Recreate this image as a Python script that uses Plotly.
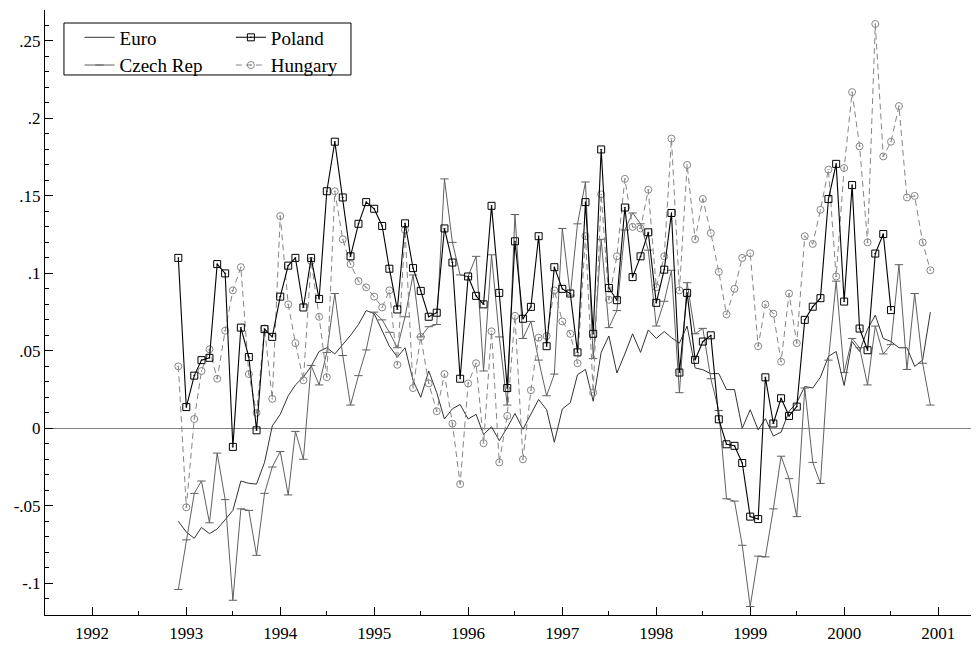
import plotly.graph_objects as go
import pandas as pd

# monthly observations, Dec 1992 - Dec 2000
months = pd.date_range('1992-12-01', periods=97, freq='MS')

euro = [
    -0.060, -0.067, -0.071, -0.064, -0.068, -0.065, -0.059, -0.053, -0.034, -0.0355,
    -0.036, -0.022, 0.0015, 0.009, 0.021, 0.028, 0.033, 0.040, 0.0496, 0.052,
    0.048, 0.054, 0.060, 0.067, 0.076, 0.074, 0.0635, 0.053, 0.046, 0.052,
    0.031, 0.020, 0.037, 0.023, 0.006, 0.0126, 0.0154, 0.006, 0.009, -0.004,
    0.001, -0.008, 0.0004, 0.0096, -0.0006, 0.009, 0.0186, 0.012, -0.009, 0.0125,
    0.0165, 0.0346, 0.038, 0.0175, 0.049, 0.0596, 0.0357, 0.048, 0.061, 0.049,
    0.0635, 0.058, 0.0625, 0.0585, 0.055, 0.066, 0.039, 0.0378, 0.0353, 0.0353,
    0.025, 0.025, 0.000, 0.012, -0.001, 0.0062, -0.005, -0.0025, 0.011, 0.0165,
    0.027, 0.026, 0.033, 0.0464, 0.0496, 0.0276, 0.056, 0.0496, 0.064, 0.073,
    0.058, 0.056, 0.052, 0.052, 0.040, 0.044, 0.075]

czech = [
    -0.104, -0.072, -0.042, -0.034, -0.061, -0.016, -0.046, -0.111, -0.052, -0.053,
    -0.082, -0.042, -0.025, -0.015, -0.043, -0.002, -0.020, 0.0406, 0.028, 0.049,
    0.087, 0.047, 0.015, 0.034, 0.0506, 0.075, 0.070, 0.062, 0.052, 0.072,
    0.099, 0.059, 0.0656, 0.067, 0.161, 0.120, 0.099, 0.098, 0.111, 0.037,
    0.112, 0.059, 0.015, 0.138, 0.058, 0.069, 0.044, 0.021, 0.035, 0.129,
    0.086, 0.132, 0.159, 0.045, 0.122, 0.065, 0.076, 0.128, 0.139, 0.132,
    0.115, 0.066, 0.082, 0.102, 0.023, 0.094, 0.061, 0.0645, 0.032, 0.0115,
    -0.0455, -0.047, -0.0755, -0.115, -0.0825, -0.083, -0.052, -0.018, -0.0325, -0.057,
    0.026, -0.022, -0.0356, 0.044, 0.095, 0.036, 0.058, 0.052, 0.028, 0.066,
    0.048, 0.054, 0.1056, 0.038, 0.087, 0.042, 0.015]

hungary = [
    0.040, -0.051, 0.006, 0.037, 0.051, 0.032, 0.063, 0.089, 0.104, 0.035,
    0.010, 0.0645, 0.019, 0.137, 0.080, 0.055, 0.031, 0.108, 0.072, 0.033,
    0.153, 0.122, 0.106, 0.095, 0.091, 0.085, 0.078, 0.089, 0.041, 0.128,
    0.026, 0.059, 0.029, 0.011, 0.035, 0.003, -0.036, 0.029, 0.042, -0.0096,
    0.0626, -0.022, 0.008, 0.0726, -0.020, 0.0246, 0.0585, 0.0596, 0.089, 0.069,
    0.061, 0.042, 0.124, 0.023, 0.151, 0.083, 0.111, 0.161, 0.130, 0.129,
    0.154, 0.091, 0.111, 0.187, 0.089, 0.170, 0.122, 0.148, 0.126, 0.101,
    0.0735, 0.090, 0.110, 0.113, 0.053, 0.080, 0.074, 0.043, 0.087, 0.055,
    0.124, 0.119, 0.141, 0.167, 0.098, 0.168, 0.217, 0.182, 0.120, 0.261,
    0.1755, 0.185, 0.208, 0.149, 0.150, 0.120, 0.102]

# Poland stops in mid-2000
poland = [
    0.110, 0.0137, 0.034, 0.044, 0.0455, 0.106, 0.100, -0.012, 0.065, 0.046,
    -0.0013, 0.064, 0.059, 0.085, 0.105, 0.110, 0.078, 0.110, 0.0835, 0.153,
    0.185, 0.149, 0.111, 0.132, 0.146, 0.1417, 0.1306, 0.103, 0.0767, 0.1323,
    0.1034, 0.0887, 0.072, 0.0746, 0.129, 0.107, 0.032, 0.098, 0.0855, 0.080,
    0.1436, 0.0874, 0.026, 0.1207, 0.0707, 0.0784, 0.124, 0.053, 0.104, 0.090,
    0.087, 0.049, 0.146, 0.061, 0.180, 0.0906, 0.0827, 0.1425, 0.0976, 0.111,
    0.1265, 0.081, 0.1024, 0.139, 0.036, 0.0874, 0.0442, 0.056, 0.060, 0.0058,
    -0.0103, -0.0113, -0.0224, -0.057, -0.0586, 0.0329, 0.0031, 0.0194, 0.008, 0.014,
    0.070, 0.0785, 0.084, 0.148, 0.1707, 0.0818, 0.157, 0.0644, 0.0504, 0.1128,
    0.1254, 0.0763]

year_ticks = [f'{y}-01-01' for y in range(1992, 2002)]
year_labels = [str(y) for y in range(1992, 2002)]
y_ticks = [-0.1, -0.05, 0, 0.05, 0.1, 0.15, 0.2, 0.25]
y_labels = ['-.1', '-.05', '0', '.05', '.1', '.15', '.2', '.25']

fig = go.Figure()

fig.add_trace(go.Scatter(
    x=months, y=euro, name='Euro', mode='lines',
    line=dict(color='#333333', width=1), legend='legend'))

fig.add_trace(go.Scatter(
    x=months, y=czech, name='Czech Rep', mode='lines+markers',
    line=dict(color='#606060', width=1),
    marker=dict(symbol='line-ew', size=6, color='#606060',
                line=dict(color='#606060', width=1)),
    legend='legend'))

fig.add_trace(go.Scatter(
    x=months, y=hungary, name='Hungary', mode='lines+markers',
    line=dict(color='#858585', width=1, dash='6px,4px'),
    marker=dict(symbol='circle-open-dot', size=7, color='#858585',
                line=dict(width=1)),
    legend='legend2', legendrank=2))

fig.add_trace(go.Scatter(
    x=months[:len(poland)], y=poland, name='Poland', mode='lines+markers',
    line=dict(color='black', width=1.1),
    marker=dict(symbol='square-open-dot', size=7, color='black',
                line=dict(width=1)),
    legend='legend2', legendrank=1))

# box round the two legend columns
fig.add_shape(type='rect', xref='paper', yref='paper',
              x0=0.0203, x1=0.3276, y0=0.8926, y1=0.9785,
              line=dict(color='black', width=1), fillcolor='rgba(0,0,0,0)')

leg_common = dict(xanchor='left', yanchor='top', bgcolor='rgba(0,0,0,0)',
                  borderwidth=0, font=dict(size=19), tracegroupgap=0)

fig.update_layout(
    width=979, height=649,
    margin=dict(l=37, r=8, t=2, b=42),
    plot_bgcolor='white', paper_bgcolor='white',
    font=dict(family='Liberation Serif', size=17, color='black'),
    legend=dict(x=0.037, y=0.986, **leg_common),
    legend2=dict(x=0.199, y=0.986, **leg_common),
)

fig.update_xaxes(
    type='date', range=['1991-07-02', '2001-06-08'],
    tickvals=year_ticks, ticktext=year_labels,
    ticks='inside', ticklen=8, tickcolor='black', ticklabelstandoff=3,
    minor=dict(ticks='inside', ticklen=4, dtick='M6', tick0='1992-01-01',
               tickcolor='black', showgrid=False),
    showline=True, linecolor='black', linewidth=1,
    showgrid=False, zeroline=False)

fig.update_yaxes(
    range=[-0.1205, 0.27],
    tickvals=y_ticks, ticktext=y_labels,
    ticks='inside', ticklen=8, tickcolor='black',
    minor=dict(ticks='inside', ticklen=4, dtick=0.01, tick0=0,
               tickcolor='black', showgrid=False),
    showline=True, linecolor='black', linewidth=1,
    showgrid=False, zeroline=True, zerolinecolor='#808080', zerolinewidth=1)

fig.write_html('out.html')
